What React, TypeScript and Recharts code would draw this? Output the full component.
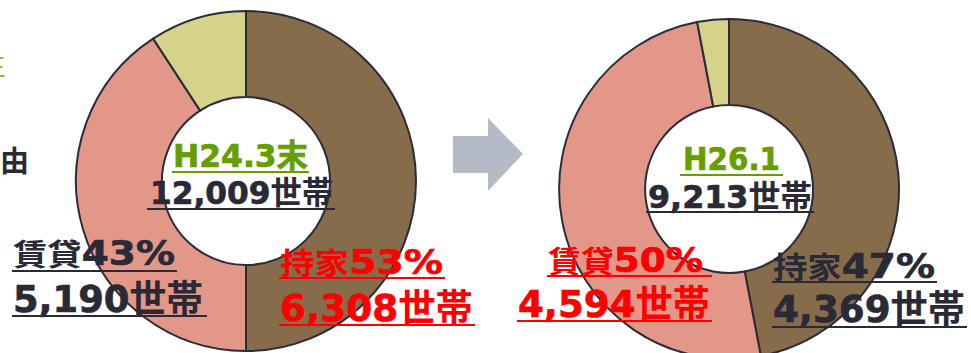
import React from 'react';
import { PieChart, Pie, Cell } from 'recharts';

// ---- data ----
const categories = ['持家', '賃貸', 'その他'];
const colors = ['#866C4B', '#E39789', '#D5D28A'];
// sector shares as drawn in the picture (%)
const h24Shares = [50, 40.8, 9.2];
const h26Shares = [47, 50, 3];
// label values
const periodLabels = ['H24.3末', 'H26.1'];
const totals = [12009, 9213];
const h24Pct = [53, 43];
const h26Pct = [47, 50];
const h24Households = [6308, 5190];
const h26Households = [4369, 4594];

const h24Data = categories.map((name, i) => ({ name, value: h24Shares[i] }));
const h26Data = categories.map((name, i) => ({ name, value: h26Shares[i] }));

const FONT = "'DejaVu Sans', 'Noto Sans CJK JP', sans-serif";
const DARK = '#2A2A36';
const RED = '#FF0000';
const GREEN = '#669E00';

const fmt = (n: number) => n.toLocaleString('en-US');

type Part = { t: string; size: number; heavy?: boolean };

function Label({ x, y, parts, len, color, ux1, ux2, uy }: { x: number; y: number; parts: Part[]; len: number; color: string; ux1: number; ux2: number; uy: number }) {
  return (
    <g>
      <text x={x} y={y} fill={color} fontFamily={FONT} fontWeight="bold" textLength={len} lengthAdjust="spacingAndGlyphs">
        {parts.map((p, i) => (
          <tspan key={i} fontSize={p.size} stroke={p.heavy ? color : 'none'} strokeWidth={p.heavy ? 0.7 : 0}>{p.t}</tspan>
        ))}
      </text>
      <line x1={ux1} x2={ux2} y1={uy} y2={uy} stroke={color} strokeWidth={2} />
    </g>
  );
}

export default function App() {
  return (
    <div style={{ position: 'absolute', left: 0, top: 0, width: 971, height: 353, background: '#fff' }}>
      <PieChart width={971} height={353} margin={{ top: 0, right: 0, bottom: 0, left: 0 }}>
        <Pie data={h24Data} dataKey="value" cx={246} cy={181} innerRadius={84} outerRadius={170} startAngle={90} endAngle={-270} isAnimationActive={false} stroke="#2B2B3A" strokeWidth={2}>
          {h24Data.map((d, i) => (<Cell key={d.name} fill={colors[i]} />))}
        </Pie>
        <Pie data={h26Data} dataKey="value" cx={729} cy={189} innerRadius={84} outerRadius={170} startAngle={90} endAngle={-270} isAnimationActive={false} stroke="#2B2B3A" strokeWidth={2}>
          {h26Data.map((d, i) => (<Cell key={d.name} fill={colors[i]} />))}
        </Pie>
      </PieChart>
      <svg width={971} height={353} style={{ position: 'absolute', left: 0, top: 0, pointerEvents: 'none' }}>
        {/* cut-off slide text at left edge */}
        <text x={6} y={76} textAnchor="end" fill="#8DC21F" fontFamily={FONT} fontSize={28}>生</text>
        <text x={0} y={172} fill={DARK} fontFamily={FONT} fontWeight="bold" fontSize={29}>由</text>
        {/* arrow */}
        <polygon points="453,136 488,136 488,118 523,154 488,191 488,173 453,173" fill="#B4BBC6" />

        {/* H24 centre */}
        <Label x={173} y={167} parts={[{ t: periodLabels[0], size: 32, heavy: true }]} len={135} color={GREEN} ux1={172} ux2={309} uy={172} />
        <Label x={150} y={204} parts={[{ t: fmt(totals[0]), size: 32, heavy: true }, { t: '世帯', size: 32 }]} len={183} color={DARK} ux1={147} ux2={335} uy={209} />
        {/* H24 rented */}
        <Label x={13} y={265} parts={[{ t: categories[1], size: 30 }, { t: h24Pct[1] + '%', size: 34, heavy: true }]} len={162} color={DARK} ux1={12} ux2={177} uy={271} />
        <Label x={13} y={312} parts={[{ t: fmt(h24Households[1]), size: 38, heavy: true }, { t: '世帯', size: 38 }]} len={190} color={DARK} ux1={12} ux2={207} uy={316} />
        {/* H24 owned */}
        <Label x={280} y={274} parts={[{ t: categories[0], size: 30 }, { t: h24Pct[0] + '%', size: 34, heavy: true }]} len={163} color={RED} ux1={279} ux2={445} uy={278} />
        <Label x={280} y={321} parts={[{ t: fmt(h24Households[0]), size: 38, heavy: true }, { t: '世帯', size: 38 }]} len={193} color={RED} ux1={279} ux2={475} uy={325} />

        {/* H26 centre */}
        <Label x={683} y={170} parts={[{ t: periodLabels[1], size: 32, heavy: true }]} len={97} color={GREEN} ux1={680} ux2={783} uy={175} />
        <Label x={648} y={208} parts={[{ t: fmt(totals[1]), size: 32, heavy: true }, { t: '世帯', size: 32 }]} len={164} color={DARK} ux1={646} ux2={814} uy={212} />
        {/* H26 rented */}
        <Label x={548} y={272} parts={[{ t: categories[1], size: 30 }, { t: h26Pct[1] + '%', size: 34, heavy: true }]} len={155} color={RED} ux1={547} ux2={712} uy={276} />
        <Label x={518} y={317} parts={[{ t: fmt(h26Households[1]), size: 38, heavy: true }, { t: '世帯', size: 38 }]} len={192} color={RED} ux1={517} ux2={712} uy={321} />
        {/* H26 owned */}
        <Label x={773} y={278} parts={[{ t: categories[0], size: 30 }, { t: h26Pct[0] + '%', size: 34, heavy: true }]} len={162} color={DARK} ux1={772} ux2={937} uy={282} />
        <Label x={773} y={322} parts={[{ t: fmt(h26Households[0]), size: 38, heavy: true }, { t: '世帯', size: 38 }]} len={192} color={DARK} ux1={772} ux2={967} uy={327} />
      </svg>
    </div>
  );
}
